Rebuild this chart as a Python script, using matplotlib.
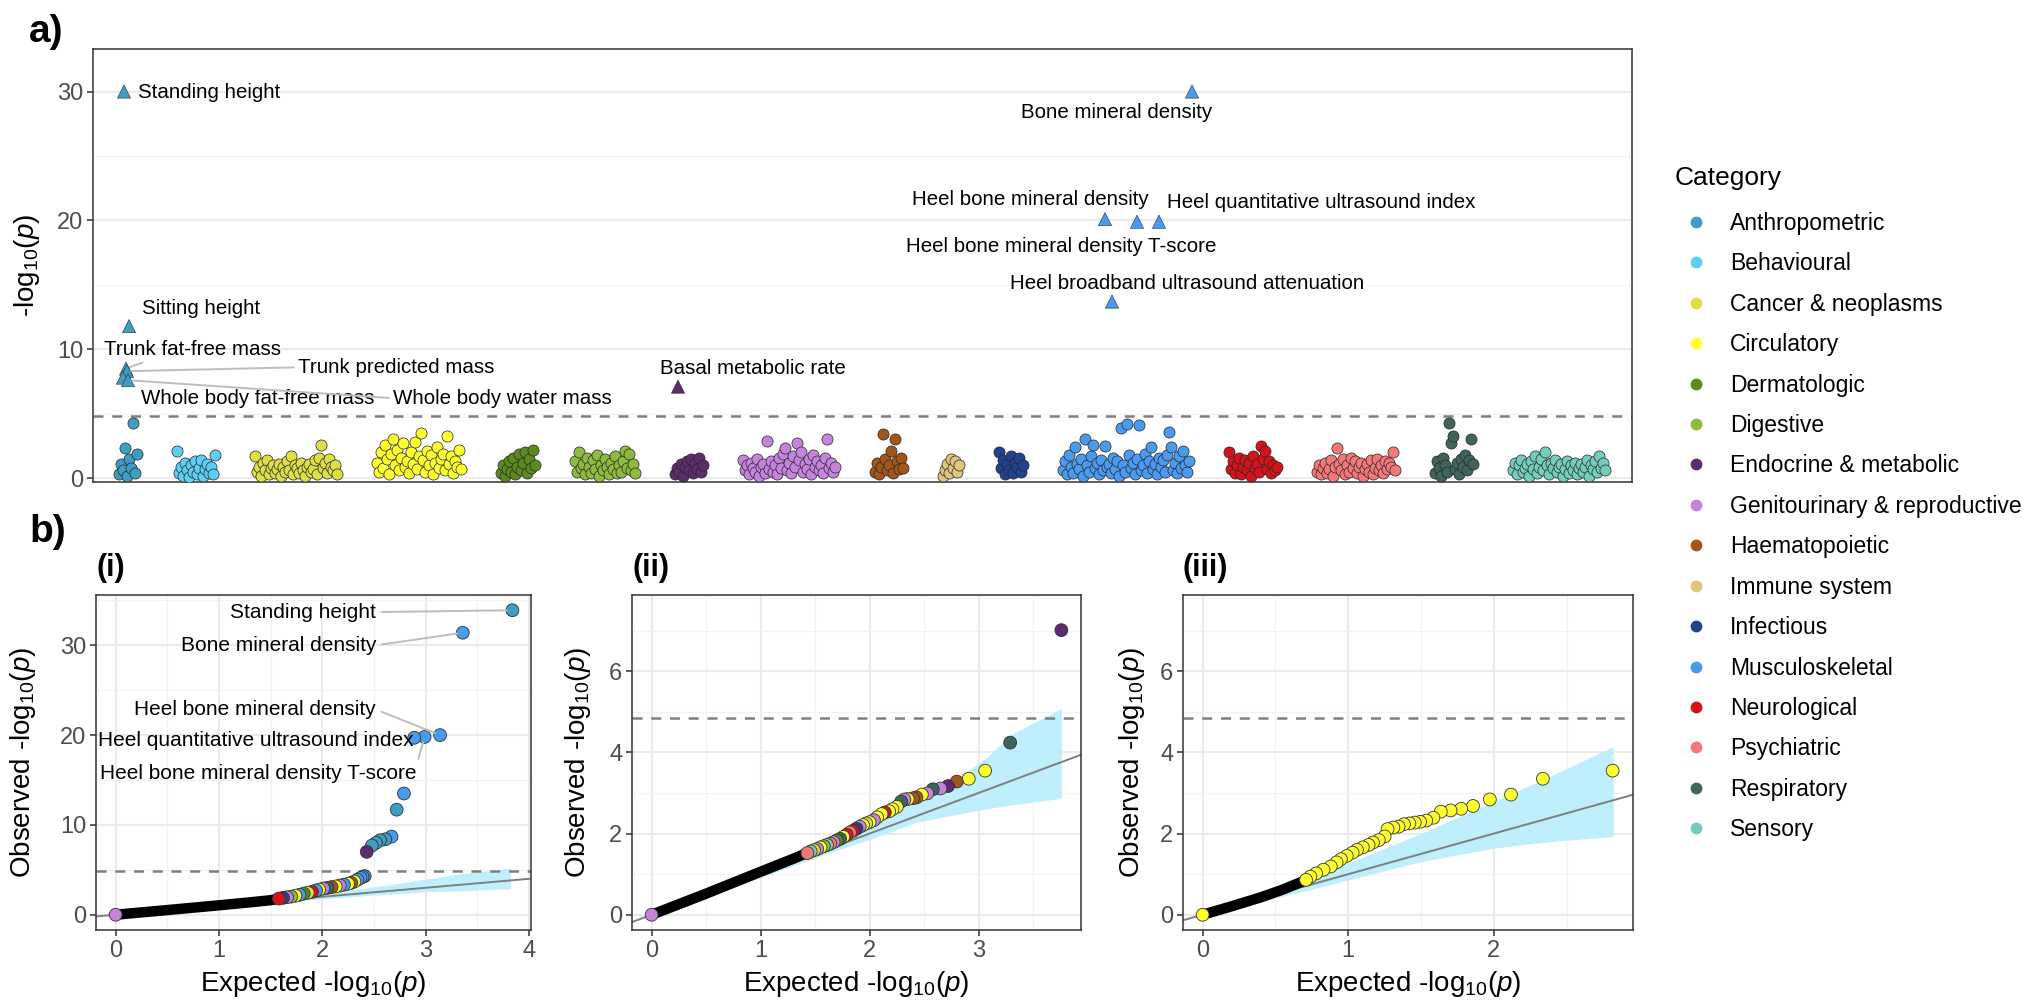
import numpy as np
import matplotlib
matplotlib.use("Agg")
import matplotlib.pyplot as plt
from matplotlib.lines import Line2D

plt.rcParams['font.family'] = ['Liberation Sans', 'DejaVu Sans']
plt.rcParams['mathtext.fontset'] = 'custom'
plt.rcParams['mathtext.rm'] = 'Liberation Sans'
plt.rcParams['mathtext.it'] = 'Liberation Sans:italic'
plt.rcParams['mathtext.bf'] = 'Liberation Sans:bold'

# ---------------- data ----------------
categories = ['Anthropometric', 'Behavioural', 'Cancer & neoplasms', 'Circulatory',
              'Dermatologic', 'Digestive', 'Endocrine & metabolic',
              'Genitourinary & reproductive', 'Haematopoietic', 'Immune system',
              'Infectious', 'Musculoskeletal', 'Neurological', 'Psychiatric',
              'Respiratory', 'Sensory']
cat_colors = ['#3d9dc3', '#5ccff5', '#dede45', '#ffff2e', '#5b8a1e', '#8dba3f',
              '#5e2c6c', '#c583dd', '#a2571a', '#e2c47e', '#22418f', '#4a9af0',
              '#d4131a', '#f57878', '#3f645b', '#73cdbc']

# -log10(p) of the traits below the threshold, in plotting order
anthropometric = [0.3, 1.1, 0.6, 2.3, 0.2, 1.5, 0.8, 4.3, 0.4, 1.9]
behavioural = [2.1, 0.4, 0.9, 0.2, 1.2, 0.6, 0.1, 1.0, 0.5, 1.3, 0.3, 0.8, 1.4, 0.2,
               0.7, 1.1, 0.4, 0.9, 0.3, 1.8]
cancer = [1.7, 0.5, 0.9, 0.2, 1.2, 0.6, 1.4, 0.3, 0.8, 1.0, 0.4, 0.7, 1.1, 0.2, 0.9,
          0.5, 1.3, 0.6, 1.7, 0.3, 1.0, 0.8, 0.4, 1.2, 0.6, 0.2, 0.9, 1.1, 0.5, 0.7,
          1.4, 0.3, 1.6, 2.6, 0.8, 1.2, 0.4, 1.5, 0.9, 0.6, 1.0, 0.3]
circulatory = [1.2, 0.5, 2.0, 0.8, 2.6, 1.5, 0.3, 1.9, 3.0, 1.0, 2.2, 0.6, 1.6, 2.7,
               0.9, 1.3, 0.4, 2.0, 1.1, 2.8, 0.7, 1.7, 3.5, 1.4, 0.5, 2.1, 1.0, 1.8,
               0.3, 1.2, 2.4, 0.8, 1.5, 1.9, 0.6, 3.3, 1.1, 1.7, 0.4, 1.3, 0.9, 2.2, 0.7]
dermatologic = [0.4, 1.0, 0.2, 0.7, 1.3, 0.5, 1.6, 0.3, 0.9, 1.9, 0.6, 1.2, 2.0, 0.4,
                1.5, 0.8, 2.2, 1.0]
digestive = [1.3, 0.5, 2.0, 0.8, 1.1, 0.3, 1.6, 0.9, 0.4, 1.4, 0.7, 1.8, 0.2, 1.0, 0.6,
             1.5, 0.9, 0.3, 1.2, 0.7, 1.7, 0.4, 1.0, 0.5, 1.3, 2.1, 0.8, 1.9, 0.6, 1.1, 0.4]
endocrine = [0.3, 0.8, 0.5, 1.1, 0.2, 0.9, 1.3, 0.6, 1.5, 0.4, 1.2, 0.7, 1.6, 0.5, 1.0]
genitourinary = [1.4, 0.6, 1.0, 0.3, 1.2, 0.8, 0.5, 1.5, 0.2, 0.9, 1.1, 0.4, 2.9, 0.7,
                 1.3, 0.5, 1.0, 0.3, 1.6, 0.8, 1.9, 2.3, 0.6, 1.2, 0.4, 1.7, 0.9, 2.7,
                 1.4, 2.0, 0.5, 1.1, 0.7, 1.5, 0.3, 1.8, 0.9, 1.3, 0.6, 1.0, 0.4, 1.6,
                 3.0, 0.8, 1.2, 0.5, 0.9]
haematopoietic = [0.5, 1.2, 0.3, 0.9, 3.4, 1.5, 0.6, 1.0, 2.1, 0.4, 3.0, 1.3, 0.7, 1.6, 0.8]
immune = [0.2, 0.6, 1.1, 0.4, 1.5, 0.8, 1.3, 0.5, 1.0]
infectious = [2.0, 0.8, 1.4, 0.3, 1.1, 0.6, 1.7, 0.4, 1.2, 0.9, 1.6, 0.5, 1.0]
musculoskeletal = [0.6, 1.3, 0.3, 1.8, 0.9, 0.4, 2.4, 1.1, 0.7, 1.5, 0.2, 3.0, 1.0, 0.5,
                   1.7, 2.6, 0.8, 1.2, 0.3, 1.4, 0.6, 2.5, 0.9, 1.1, 0.4, 1.6, 0.7, 1.3,
                   0.2, 3.9, 1.0, 0.5, 4.2, 1.8, 0.8, 1.2, 0.3, 1.5, 4.1, 0.6, 1.0, 1.9,
                   0.4, 1.3, 2.4, 0.7, 1.1, 0.3, 1.6, 0.9, 1.4, 0.5, 1.8, 3.6, 2.4, 0.6,
                   1.2, 0.4, 1.7, 0.8, 2.1, 1.0, 0.5, 1.3]
neurological = [2.0, 0.7, 1.3, 0.4, 1.0, 1.6, 0.3, 0.9, 1.4, 0.6, 1.2, 0.2, 1.7, 0.8,
                1.1, 0.5, 2.5, 1.5, 2.1, 0.7, 1.3, 0.4, 1.0, 0.6, 0.9]
psychiatric = [0.5, 1.0, 0.3, 0.8, 1.2, 0.4, 0.7, 1.4, 0.2, 0.9, 2.3, 1.1, 0.6, 1.5, 0.3,
               1.0, 0.5, 1.6, 0.8, 1.3, 0.4, 0.9, 1.2, 0.2, 0.7, 1.1, 0.5, 1.4, 0.3, 0.8,
               1.5, 0.6, 1.0, 0.4, 1.3, 0.7, 1.2, 0.9, 2.0, 0.6]
respiratory = [0.4, 1.3, 0.8, 0.2, 1.6, 1.0, 0.5, 4.3, 2.7, 3.3, 0.7, 1.2, 0.3, 1.5, 0.9,
               1.8, 0.6, 1.4, 3.0, 1.1]
sensory = [0.6, 1.2, 0.3, 1.0, 1.4, 0.5, 0.8, 1.1, 0.2, 1.3, 0.7, 1.7, 0.4, 0.9, 1.5,
           0.6, 2.0, 1.0, 0.3, 1.2, 0.8, 1.4, 0.5, 0.9, 1.1, 0.2, 0.7, 1.3, 0.4, 1.0,
           0.6, 1.2, 0.3, 0.8, 1.1, 0.5, 0.9, 1.4, 0.2, 1.0, 0.7, 1.3, 0.5, 1.7, 0.8,
           1.2, 0.6]
manhattan_values = [anthropometric, behavioural, cancer, circulatory, dermatologic,
                    digestive, endocrine, genitourinary, haematopoietic, immune,
                    infectious, musculoskeletal, neurological, psychiatric,
                    respiratory, sensory]

# significant traits (triangles), -log10(p) capped at 30
top_labels = ['Standing height', 'Sitting height', 'Trunk fat-free mass',
              'Trunk predicted mass', 'Whole body fat-free mass', 'Whole body water mass',
              'Bone mineral density', 'Heel bone mineral density',
              'Heel broadband ultrasound attenuation', 'Heel bone mineral density T-score',
              'Heel quantitative ultrasound index', 'Basal metabolic rate']
top_category = ['Anthropometric'] * 6 + ['Musculoskeletal'] * 5 + ['Endocrine & metabolic']
top_index = [2.5, 5, 3.5, 4, 2, 4.5, 64.5, 21, 24.5, 37, 48, 1.5]
top_values = [30, 11.8, 8.5, 8.3, 7.8, 7.6, 30, 20.1, 13.7, 19.9, 19.9, 7.1]

threshold = 4.85

# QQ (i): all traits
qq1_dense_x = [0, 0.5, 1.0, 1.3, 1.5, 1.6]
qq1_dense_y = [0, 0.52, 1.05, 1.38, 1.62, 1.8]
qq1_x = [3.84, 3.36, 3.14, 2.99, 2.89, 2.79, 2.72, 2.67, 2.61, 2.56, 2.52, 2.48, 2.43,
         2.41, 2.39, 2.37, 2.34, 2.31, 2.28, 2.25, 2.21, 2.17, 2.13, 2.09, 2.05, 2.01,
         1.97, 1.94, 1.90, 1.86, 1.82, 1.78, 1.74, 1.70, 1.66, 1.62, 1.58, 0.0]
qq1_y = [33.9, 31.4, 20.0, 19.8, 19.7, 13.5, 11.7, 8.7, 8.4, 8.3, 8.0, 7.7, 7.0,
         4.3, 4.2, 4.1, 3.9, 3.7, 3.55, 3.45, 3.35, 3.25, 3.15, 3.08, 3.0, 2.92,
         2.8, 2.7, 2.55, 2.45, 2.35, 2.22, 2.12, 2.02, 1.95, 1.88, 1.8, 0.0]
qq1_cat = ['Anthropometric', 'Musculoskeletal', 'Musculoskeletal', 'Musculoskeletal',
           'Musculoskeletal', 'Musculoskeletal', 'Anthropometric', 'Musculoskeletal',
           'Anthropometric', 'Anthropometric', 'Anthropometric', 'Anthropometric',
           'Endocrine & metabolic', 'Anthropometric', 'Musculoskeletal', 'Musculoskeletal',
           'Musculoskeletal', 'Circulatory', 'Haematopoietic', 'Circulatory',
           'Musculoskeletal', 'Genitourinary & reproductive', 'Circulatory',
           'Haematopoietic', 'Respiratory', 'Genitourinary & reproductive', 'Circulatory',
           'Musculoskeletal', 'Neurological', 'Cancer & neoplasms', 'Dermatologic',
           'Musculoskeletal', 'Circulatory', 'Digestive', 'Genitourinary & reproductive',
           'Infectious', 'Neurological', 'Genitourinary & reproductive']
qq1_band_x = [0, 0.5, 1.0, 1.5, 2.0, 2.5, 3.0, 3.3, 3.82]
qq1_band_lo = [0.0, 0.46, 0.92, 1.35, 1.75, 2.2, 2.55, 2.65, 2.9]
qq1_band_hi = [0.02, 0.55, 1.1, 1.75, 2.4, 3.1, 3.95, 4.5, 5.2]

# QQ (ii): without anthropometric / musculoskeletal
qq2_dense_x = [0, 0.5, 1.0, 1.3, 1.45]
qq2_dense_y = [0, 0.52, 1.06, 1.38, 1.55]
qq2_x = [3.76, 3.29, 3.06, 2.91, 2.80, 2.72, 2.65, 2.58, 2.53, 2.48, 2.43, 2.40, 2.35,
         2.32, 2.29, 2.25, 2.21, 2.18, 2.14, 2.11, 2.07, 2.04, 2.00, 1.97, 1.94, 1.91,
         1.88, 1.85, 1.82, 1.79, 1.76, 1.73, 1.70, 1.67, 1.64, 1.61, 1.58, 1.55, 1.52,
         1.49, 1.46, 1.43, 0.0]
qq2_y = [7.01, 4.24, 3.55, 3.35, 3.28, 3.17, 3.11, 3.09, 2.99, 2.96, 2.89, 2.87, 2.85,
         2.84, 2.79, 2.66, 2.60, 2.55, 2.52, 2.48, 2.40, 2.33, 2.28, 2.25, 2.21, 2.17,
         2.12, 2.07, 2.03, 1.97, 1.92, 1.87, 1.83, 1.79, 1.75, 1.72, 1.69, 1.66, 1.62,
         1.59, 1.56, 1.52, 0.0]
qq2_cat = ['Endocrine & metabolic', 'Respiratory', 'Circulatory', 'Circulatory',
           'Haematopoietic', 'Endocrine & metabolic', 'Genitourinary & reproductive',
           'Respiratory', 'Genitourinary & reproductive', 'Circulatory', 'Haematopoietic',
           'Haematopoietic', 'Circulatory', 'Genitourinary & reproductive', 'Respiratory',
           'Circulatory', 'Circulatory', 'Circulatory', 'Neurological', 'Circulatory',
           'Circulatory', 'Genitourinary & reproductive', 'Circulatory',
           'Cancer & neoplasms', 'Circulatory', 'Genitourinary & reproductive',
           'Infectious', 'Neurological', 'Psychiatric', 'Neurological', 'Circulatory',
           'Respiratory', 'Dermatologic', 'Genitourinary & reproductive', 'Psychiatric',
           'Sensory', 'Digestive', 'Circulatory', 'Genitourinary & reproductive',
           'Cancer & neoplasms', 'Sensory', 'Psychiatric', 'Genitourinary & reproductive']
qq2_band_x = [0, 0.5, 1.0, 1.29, 1.78, 2.1, 2.43, 2.76, 3.09, 3.29, 3.76]
qq2_band_lo = [0.0, 0.46, 0.92, 1.2, 1.66, 1.95, 2.28, 2.45, 2.62, 2.7, 2.87]
qq2_band_hi = [0.02, 0.55, 1.1, 1.4, 1.95, 2.34, 2.8, 3.28, 3.9, 4.43, 5.08]

# QQ (iii): circulatory traits only
qq3_dense_x = [0, 0.2, 0.4, 0.55, 0.7]
qq3_dense_y = [0, 0.21, 0.43, 0.62, 0.84]
qq3_x = [2.816, 2.337, 2.118, 1.973, 1.857, 1.776, 1.703, 1.636, 1.585, 1.536, 1.494,
         1.457, 1.42, 1.383, 1.346, 1.31, 1.27, 1.25, 1.21, 1.17, 1.14, 1.10, 1.06,
         1.03, 0.99, 0.95, 0.92, 0.88, 0.83, 0.78, 0.74, 0.71, 0.0]
qq3_y = [3.55, 3.35, 2.96, 2.84, 2.68, 2.61, 2.57, 2.54, 2.39, 2.32, 2.29, 2.27, 2.25,
         2.23, 2.17, 2.15, 2.11, 1.93, 1.84, 1.78, 1.72, 1.66, 1.60, 1.53, 1.45, 1.37,
         1.29, 1.19, 1.11, 1.02, 0.94, 0.86, 0.0]
qq3_band_x = [0, 0.5, 1.0, 1.5, 2.0, 2.38, 2.82]
qq3_band_lo = [0.0, 0.41, 0.86, 1.31, 1.64, 1.80, 1.93]
qq3_band_hi = [0.02, 0.57, 1.27, 2.0, 2.79, 3.40, 4.14]

# ---------------- figure ----------------
W, H = 2022, 1002
fig = plt.figure(figsize=(W / 100, H / 100), dpi=100)
col_of = dict(zip(categories, cat_colors))


def px_box(l, t, r, b):
    return [l / W, 1 - b / H, (r - l) / W, (b - t) / H]


def style(ax):
    for s in ax.spines.values():
        s.set_color('#333333')
        s.set_linewidth(1.1)
    ax.tick_params(colors='#333333', labelcolor='#4d4d4d', labelsize=17,
                   length=4, width=1.1, pad=3)
    ax.tick_params(which='minor', length=0)
    ax.set_axisbelow(True)


# ---- a) Manhattan ----
ax = fig.add_axes(px_box(93, 49, 1632, 482))
style(ax)
ax.set_yticks([0, 10, 20, 30])
ax.set_yticks([5, 15, 25], minor=True)
ax.set_xticks([])
ax.grid(which='major', axis='y', color='#ebebeb', lw=1.5)
ax.grid(which='minor', axis='y', color='#f2f2f2', lw=0.8)
ax.axhline(threshold, color='#7f7f7f', lw=1.8, ls=(0, (4, 3.5)), zorder=2)

cat_start = {}
pos = 0
for name, col, vals in zip(categories, cat_colors, manhattan_values):
    cat_start[name] = pos
    x = pos + np.arange(len(vals))
    ax.scatter(x, vals, s=64, color=col, edgecolor='#262626', linewidth=0.5, zorder=3)
    pos += len(vals) - 1 + 20

tri_x = [cat_start[c] + i for c, i in zip(top_category, top_index)]
ax.scatter(tri_x, top_values, marker='^', s=90, c=[col_of[c] for c in top_category],
           edgecolor='#2b2b2b', linewidth=0.4, zorder=4)

# label placement: (x, y, ha, segment anchor on text or None)
a_label_pos = {
    'Standing height': (9.3, 29.9, 'left', None),
    'Sitting height': (11.5, 13.2, 'left', None),
    'Trunk fat-free mass': (-7.7, 9.95, 'left', (0.3, 0.1)),
    'Trunk predicted mass': (89.5, 8.6, 'left', (0, 0.5)),
    'Whole body fat-free mass': (11, 6.2, 'left', None),
    'Whole body water mass': (137, 6.2, 'left', (0, 0.5)),
    'Bone mineral density': (499, 28.4, 'center', None),
    'Heel bone mineral density': (455.5, 21.6, 'center', None),
    'Heel broadband ultrasound attenuation': (534, 15.1, 'center', None),
    'Heel bone mineral density T-score': (471, 18.0, 'center', None),
    'Heel quantitative ultrasound index': (524, 21.4, 'left', None),
    'Basal metabolic rate': (270.5, 8.5, 'left', None),
}
for lab, tx, tv in zip(top_labels, tri_x, top_values):
    lx, ly, ha, rel = a_label_pos[lab]
    if rel is None:
        ax.text(lx, ly, lab, ha=ha, va='center', fontsize=14.8, zorder=5)
    else:
        ax.annotate(lab, xy=(tx, tv), xytext=(lx, ly), ha=ha, va='center', fontsize=14.8,
                    zorder=5, arrowprops=dict(arrowstyle='-', color='#bdbdbd', lw=1.4,
                                              relpos=rel, shrinkA=1, shrinkB=3))

ax.set_xlim(-13, 756.5)
ax.set_ylim(-0.3, 33.3)
ax.set_ylabel('-log$_{10}$($p$)', fontsize=20)
ax.yaxis.set_label_coords((42 - 93) / 1539, 0.5)

handles = [Line2D([], [], marker='o', ls='', markersize=7.5, markerfacecolor=c,
                  markeredgecolor=c) for c in cat_colors]
fig.legend(handles, categories, loc='upper left', bbox_to_anchor=(1675 / W, 1 - 212 / H),
           frameon=False, fontsize=16.5, handlelength=1.85, handletextpad=0.55,
           labelspacing=0.76, borderpad=0, borderaxespad=0)
fig.text(1675 / W, 1 - 178 / H, 'Category', fontsize=19, ha='left', va='center')


# ---- b) QQ plots ----
def qq_panel(box, title, dense_x, dense_y, px, py, pcat, bx, blo, bhi, xlim, ylim,
             xticks, yticks, yminor, ylab_x):
    ax = fig.add_axes(px_box(*box))
    style(ax)
    ax.fill_between(bx, blo, bhi, color='#bfeefc', lw=0, zorder=1)
    ax.axline((0, 0), slope=1, color='#7f7f7f', lw=1.4, zorder=2)
    ax.axhline(threshold, color='#7f7f7f', lw=1.8, ls=(0, (4, 3.5)), zorder=2)
    ax.plot(dense_x, dense_y, color='black', lw=7.5, solid_capstyle='round', zorder=3)
    ax.scatter(px, py, s=85, c=[col_of[c] for c in pcat], edgecolor='#333333',
               linewidth=0.6, zorder=4)
    ax.set_xticks(xticks)
    ax.set_xticks(np.arange(0.5, xlim[1], 1.0), minor=True)
    ax.set_yticks(yticks)
    ax.set_yticks(yminor, minor=True)
    ax.grid(which='major', color='#ebebeb', lw=1.5)
    ax.grid(which='minor', color='#f2f2f2', lw=0.8)
    ax.set_xlim(*xlim)
    ax.set_ylim(*ylim)
    ax.set_xlabel('Expected -log$_{10}$($p$)', fontsize=20)
    ax.set_ylabel('Observed -log$_{10}$($p$)', fontsize=20)
    ax.xaxis.set_label_coords(0.5, -0.115)
    ax.yaxis.set_label_coords(ylab_x, 0.5)
    ax.text(0, 1.081, title, transform=ax.transAxes, ha='left', va='center',
            fontsize=22, fontweight='bold')
    return ax


ax1 = qq_panel((96, 595, 531, 930), '(i)', qq1_dense_x, qq1_dense_y, qq1_x, qq1_y, qq1_cat,
               qq1_band_x, qq1_band_lo, qq1_band_hi, (-0.19, 4.02), (-1.7, 35.6),
               [0, 1, 2, 3, 4], [0, 10, 20, 30], [5, 15, 25, 35], -0.134)
ax2 = qq_panel((632, 595, 1081, 930), '(ii)', qq2_dense_x, qq2_dense_y, qq2_x, qq2_y,
               qq2_cat, qq2_band_x, qq2_band_lo, qq2_band_hi, (-0.18, 3.94),
               (-0.375, 7.875), [0, 1, 2, 3], [0, 2, 4, 6], [1, 3, 5, 7], -0.086)
ax3 = qq_panel((1183, 595, 1633, 930), '(iii)', qq3_dense_x, qq3_dense_y, qq3_x, qq3_y,
               ['Circulatory'] * len(qq3_x), qq3_band_x, qq3_band_lo, qq3_band_hi,
               (-0.135, 2.956), (-0.375, 7.875), [0, 1, 2], [0, 2, 4, 6], [1, 3, 5, 7],
               -0.08)

# labels in (i): (text x, text y, segment anchor or None)
qq1_label_pos = {
    'Standing height': (2.52, 33.7, (1, 0.5)),
    'Bone mineral density': (2.52, 30.0, (1, 0.5)),
    'Heel bone mineral density': (2.52, 22.85, (1, 0.5)),
    'Heel quantitative ultrasound index': (2.88, 19.4, None),
    'Heel bone mineral density T-score': (2.91, 15.7, (1, 0.9)),
}
qq1_label_point = {
    'Standing height': 0, 'Bone mineral density': 1, 'Heel bone mineral density': 2,
    'Heel quantitative ultrasound index': 4, 'Heel bone mineral density T-score': 3,
}
for lab, (lx, ly, rel) in qq1_label_pos.items():
    k = qq1_label_point[lab]
    if rel is None:
        ax1.text(lx, ly, lab, ha='right', va='center', fontsize=15, zorder=5)
    else:
        ax1.annotate(lab, xy=(qq1_x[k], qq1_y[k]), xytext=(lx, ly), ha='right',
                     va='center', fontsize=15, zorder=5,
                     arrowprops=dict(arrowstyle='-', color='#bdbdbd', lw=1.4,
                                     relpos=rel, shrinkA=2, shrinkB=4))

fig.text(29 / W, 1 - 32 / H, 'a)', fontsize=28, fontweight='bold', ha='left', va='center')
fig.text(29 / W, 1 - 532 / H, 'b)', fontsize=28, fontweight='bold', ha='left', va='center')

fig.savefig('out.png', dpi=100)
